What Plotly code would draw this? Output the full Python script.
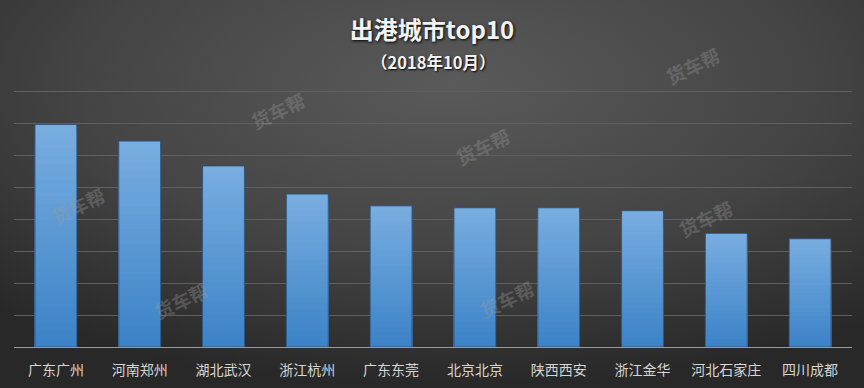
import base64
import plotly.graph_objects as go

# ---- data ----
cities = ["广东广州", "河南郑州", "湖北武汉", "浙江杭州", "广东东莞",
          "北京北京", "陕西西安", "浙江金华", "河北石家庄", "四川成都"]
values = [6.97, 6.45, 5.67, 4.79, 4.42, 4.36, 4.36, 4.27, 3.56, 3.39]
title_text = "出港城市top10"
subtitle_text = "（2018年10月）"
watermark = "货车帮"

# ---- layout geometry (px) ----
W, H = 864, 388
ML, MR, MT, MB = 14, 12, 89, 41
PW, PH = W - ML - MR, H - MT - MB

def py(px_from_top):
    return (H - MB - px_from_top) / PH

def px(px_from_left):
    return (px_from_left - ML) / PW

fig = go.Figure()

# gradient-looking bars: overlay of progressively shorter, darker bars
top_rgb = (120, 173, 224)
bot_rgb = (60, 131, 199)
N = 28
for k in range(N):
    f = 1 - k / N
    t = k / (N - 1)
    c = tuple(round(top_rgb[i] + (bot_rgb[i] - top_rgb[i]) * t) for i in range(3))
    fig.add_trace(go.Bar(
        x=cities, y=[v * f for v in values],
        marker=dict(color="rgb(%d,%d,%d)" % c, line=dict(width=0)),
        hoverinfo="skip", showlegend=False,
    ))
# outline
fig.add_trace(go.Bar(
    x=cities, y=values,
    marker=dict(color="rgba(0,0,0,0)", line=dict(color="rgba(45,80,120,0.9)", width=1)),
    showlegend=False,
))

# background radial gradient as svg image
svg = ('<svg xmlns="http://www.w3.org/2000/svg" width="864" height="388">'
       '<defs><radialGradient id="g" cx="52%" cy="22%" r="78%">'
       '<stop offset="0" stop-color="#5a5a5a"/>'
       '<stop offset="0.55" stop-color="#444444"/>'
       '<stop offset="1" stop-color="#282828"/>'
       '</radialGradient></defs>'
       '<rect width="864" height="388" fill="url(#g)"/></svg>')
src = "data:image/svg+xml;base64," + base64.b64encode(svg.encode()).decode()

annotations = [
    dict(text="<b>%s</b>" % subtitle_text, x=0.5, y=py(62), xref="paper", yref="paper",
         showarrow=False, xanchor="center", yanchor="middle",
         font=dict(size=16.5, color="#f2f2f2", family="Noto Sans CJK SC",
                   shadow="1px 1px 2px #000")),
]
wm_pos = [(692, 65), (277, 110), (482, 146), (77, 205), (705, 218), (180, 300), (507, 298)]
for (wx, wy) in wm_pos:
    annotations.append(dict(
        text="<b>%s</b>" % watermark, x=px(wx), y=py(wy), xref="paper", yref="paper",
        showarrow=False, textangle=-25, xanchor="center", yanchor="middle",
        font=dict(size=19, color="rgba(155,155,155,0.35)", family="Noto Sans CJK SC"),
    ))

fig.update_layout(
    width=W, height=H,
    margin=dict(l=ML, r=MR, t=MT, b=MB, pad=0),
    paper_bgcolor="#363636",
    plot_bgcolor="rgba(0,0,0,0)",
    barmode="overlay",
    bargap=0.5,
    title=dict(text="<b>%s</b>" % title_text, x=0.5, xanchor="center",
               y=1 - 31 / H, yanchor="middle", yref="container",
               font=dict(size=24, color="#f2f2f2", family="Noto Sans CJK SC",
                         shadow="1px 1px 3px #000")),
    xaxis=dict(showgrid=False, showline=True, linecolor="#9a9a9a", linewidth=1,
               ticks="", ticklabelstandoff=10, automargin=False,
               tickfont=dict(size=14, color="#d6d6d6", family="Noto Sans CJK SC"),
               fixedrange=True),
    yaxis=dict(range=[0, 8.08], dtick=1, showgrid=True, gridcolor="#606060", gridwidth=1,
               showticklabels=False, zeroline=False, showline=False, fixedrange=True,
               automargin=False),
    images=[dict(source=src, xref="paper", yref="paper",
                 x=-ML / PW, y=1 + MT / PH, sizex=W / PW, sizey=H / PH,
                 sizing="stretch", xanchor="left", yanchor="top", layer="below")],
    annotations=annotations,
    showlegend=False,
)

fig.write_html("out.html",
               config={"displayModeBar": False},
               post_script="document.body.style.margin='0';document.body.style.overflow='hidden';")
